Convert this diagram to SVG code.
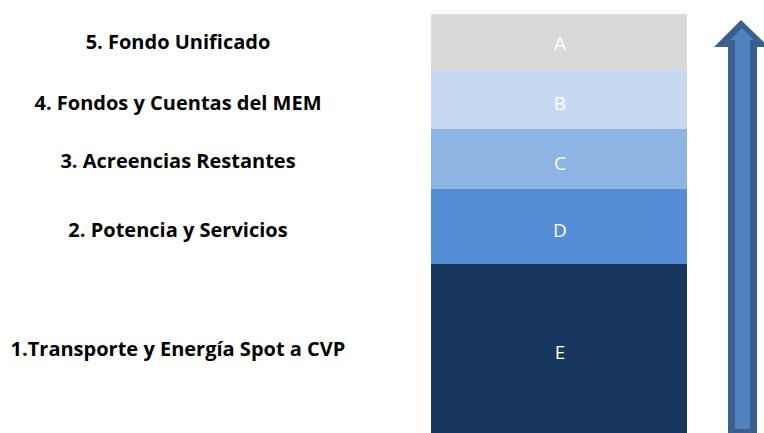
<svg xmlns="http://www.w3.org/2000/svg" width="764" height="433" viewBox="0 0 764 433">
<style>
.lbl{font-family:"Open Sans","Liberation Sans",Arial,sans-serif;font-weight:bold;font-size:20px;fill:#000;text-anchor:middle}
.let{font-family:"Open Sans",Lato,"Liberation Sans",sans-serif;font-size:19px;fill:#FFFFFF;text-anchor:middle}
</style>
<rect width="764" height="433" fill="#FFFFFF"/>
<g id="labels">
<text class="lbl" x="178" y="49">5. Fondo Unificado</text>
<text class="lbl" x="178" y="110">4. Fondos y Cuentas del MEM</text>
<text class="lbl" x="178" y="168">3. Acreencias Restantes</text>
<text class="lbl" x="178" y="237">2. Potencia y Servicios</text>
<text class="lbl" x="178" y="356">1.Transporte y Energía Spot a CVP</text>
</g>
<g id="nodeA"><rect x="431" y="14" width="256" height="56" fill="#D9D9D9"/><text class="let" x="560" y="50">A</text></g>
<g id="nodeB"><rect x="431" y="70" width="256" height="59" fill="#C6D9F1"/><text class="let" x="560" y="110">B</text></g>
<g id="nodeC"><rect x="431" y="129" width="256" height="60" fill="#8EB4E3"/><text class="let" x="560" y="170">C</text></g>
<g id="nodeD"><rect x="431" y="189" width="256" height="75" fill="#558ED5"/><text class="let" x="560" y="237">D</text></g>
<g id="nodeE"><rect x="431" y="264" width="256" height="169" fill="#17375E"/><text class="let" x="560" y="359">E</text></g>
<g id="connectors">
<polygon points="741,20 769,47 757,47 757,433 728,433 728,47 714,47" fill="#3A5F8F"/>
<polygon points="742,28 754,40 750,40 750,429 735,429 735,40 730,40" fill="#4F81BD"/>
</g>
</svg>
